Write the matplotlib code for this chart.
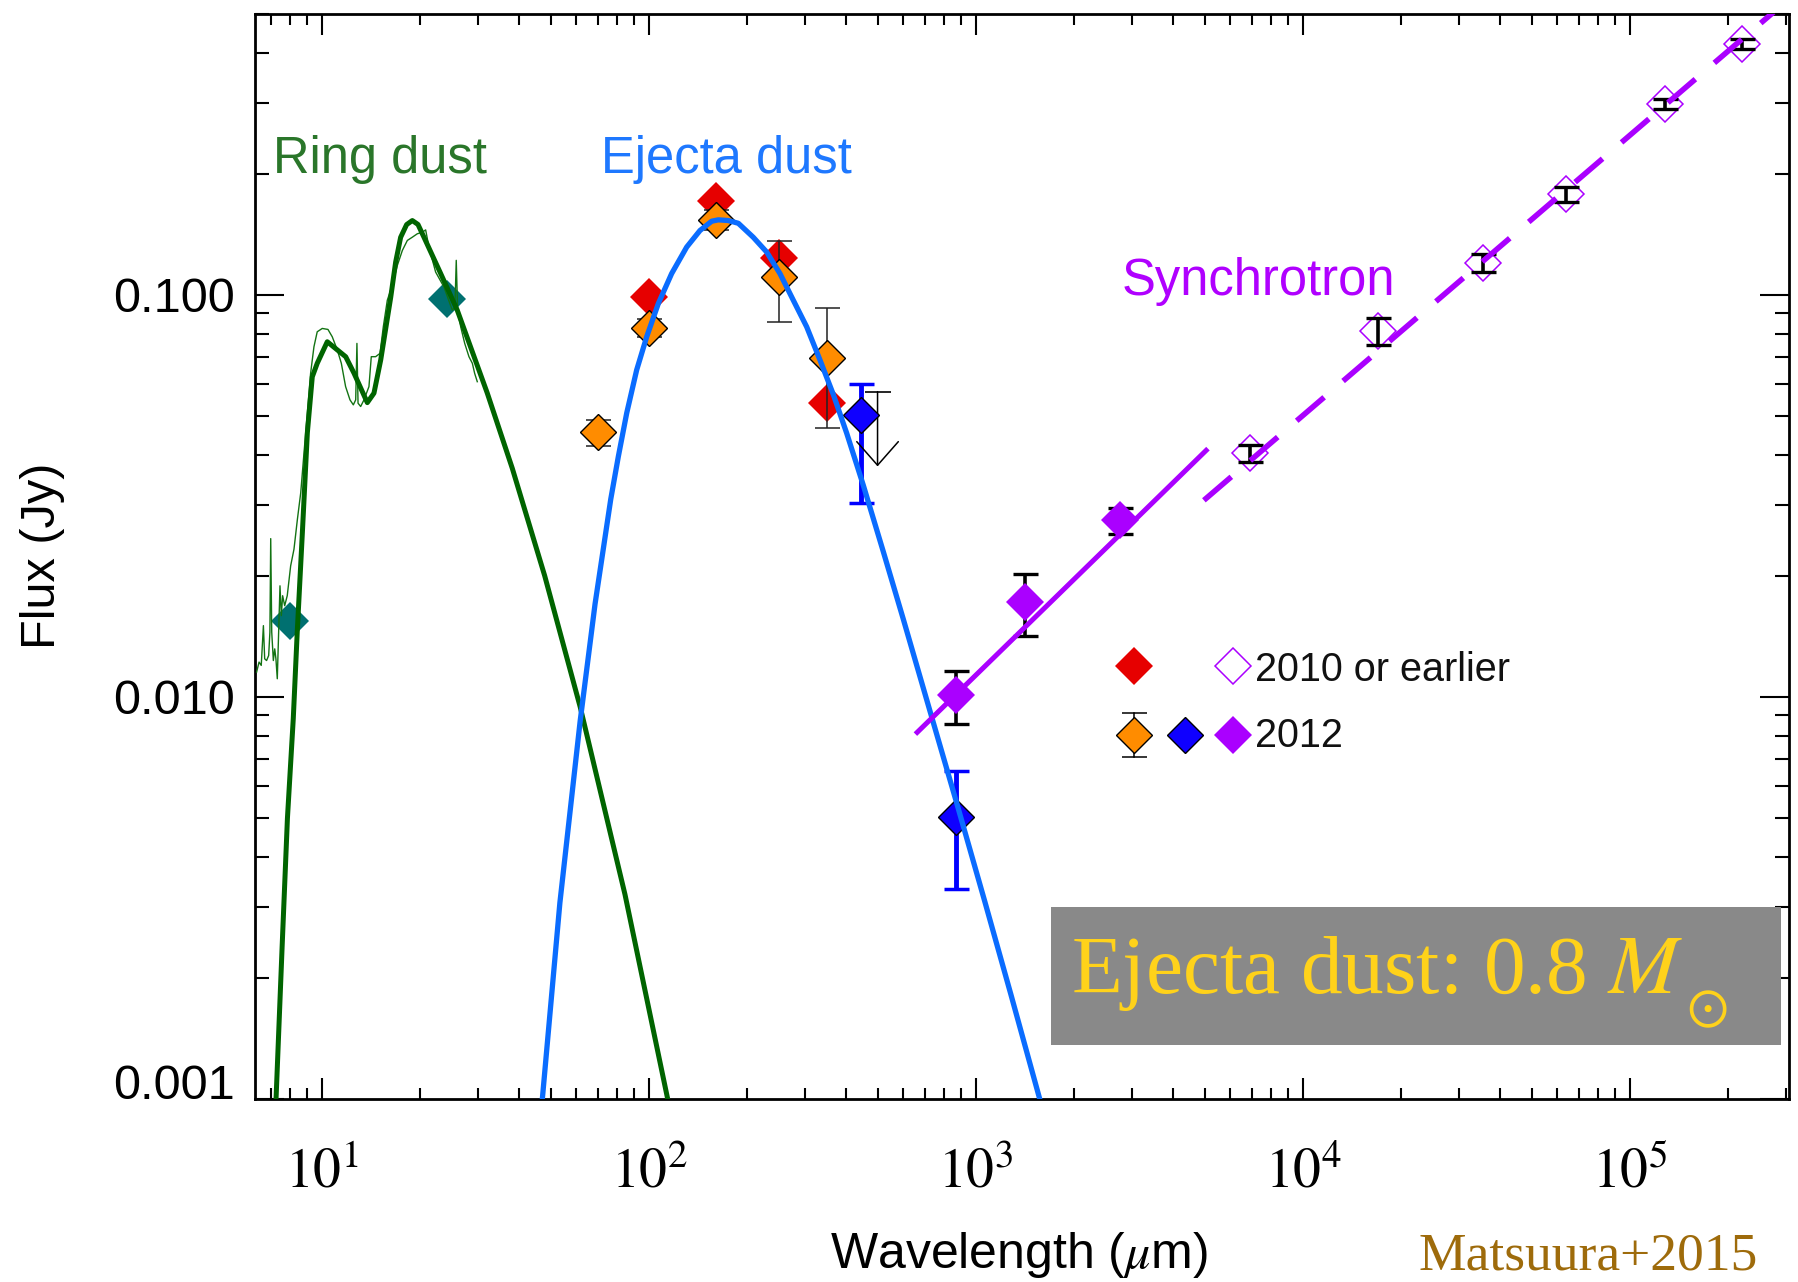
import math
import matplotlib
matplotlib.use('Agg')
import matplotlib.pyplot as plt
from matplotlib.ticker import FixedLocator, LogLocator, NullFormatter, FuncFormatter
from matplotlib.patches import Rectangle

plt.rcParams['font.family'] = ['Liberation Sans', 'DejaVu Sans']
plt.rcParams['mathtext.fontset'] = 'stix'

# ---------------- data ----------------
# Ring dust model (thick dark green)
ring_model_wl = [7.23, 7.55, 7.84, 8.17, 8.40, 8.71, 9.02, 9.34, 9.67, 10.38, 11.82, 12.53,
                 13.76, 14.42, 15.12, 16.23, 16.80, 17.40, 18.15, 18.89, 19.66, 20.51, 23.07,
                 25.93, 32.03, 38.19, 47.97, 61.62, 84.45, 114.3]
ring_model_flux = [0.00098, 0.00237, 0.00498, 0.00882, 0.01446, 0.0256, 0.0453, 0.0625, 0.0675,
                   0.0764, 0.0701, 0.0638, 0.0539, 0.0569, 0.0688, 0.0987, 0.1206, 0.139, 0.1495,
                   0.153, 0.1496, 0.139, 0.1129, 0.0915, 0.0569, 0.0370, 0.0200, 0.00942,
                   0.00322, 0.00099]

# Observed mid-IR spectrum (thin green)
spec_wl = [6.31, 6.42, 6.52, 6.62, 6.68, 6.77, 6.87, 6.93, 6.97, 7.02, 7.10, 7.17, 7.23, 7.30,
           7.37, 7.44, 7.51, 7.58, 7.69, 7.83, 8.02, 8.21, 8.41, 8.61, 8.81, 9.02, 9.23, 9.45,
           9.67, 10.02, 10.43, 10.75, 11.14, 11.46, 11.81, 12.18, 12.47, 12.68, 12.79, 12.89,
           13.13, 13.44, 13.92, 14.15, 14.59, 15.05, 15.40, 15.84, 16.41, 17.00, 17.61, 18.24,
           18.90, 19.56, 20.27, 20.75, 21.24, 22.26, 23.61, 25.03, 25.50, 25.74, 25.99, 26.56,
           27.32, 28.15, 28.83, 29.30, 29.85]
spec_flux = [0.01151, 0.01219, 0.01196, 0.01502, 0.01242, 0.01230, 0.01266, 0.01447, 0.02473,
             0.01447, 0.01230, 0.01315, 0.01242, 0.01108, 0.01447, 0.01887, 0.01591, 0.01783,
             0.01684, 0.01783, 0.02115, 0.02327, 0.02761, 0.03216, 0.04040, 0.05076, 0.06375,
             0.07423, 0.08089, 0.08245, 0.08198, 0.07860, 0.07284, 0.06752, 0.05908, 0.05476,
             0.05322, 0.05476, 0.07568, 0.05373, 0.05272, 0.05476, 0.05908, 0.07013, 0.07013,
             0.07148, 0.08322, 0.09691, 0.1056, 0.1183, 0.1289, 0.1365, 0.1391, 0.1418, 0.1431,
             0.1450, 0.1314, 0.1139, 0.1045, 0.09154, 0.09328, 0.1218, 0.09154, 0.08322,
             0.07568, 0.07013, 0.06752, 0.06375, 0.06077]

# Ejecta dust model (thick blue)
ejecta_model_wl = [47.1, 53.4, 61.6, 68.4, 76.4, 80.6, 85.5, 91.7, 98.4, 106.8, 117.3, 130.4,
                   143.2, 155.5, 162.9, 174.8, 187.6, 208.4, 229.1, 251.5, 276.3, 303.6, 333.4,
                   366.1, 402.3, 452.2, 520.6, 599.4, 723.4, 873.0, 1065.0, 1279.0, 1600.0]
ejecta_model_flux = [0.00098, 0.00307, 0.0087, 0.0170, 0.0310, 0.0396, 0.0508, 0.0650, 0.0786,
                     0.0951, 0.1129, 0.1314, 0.1445, 0.1524, 0.1536, 0.1530, 0.1506, 0.1390,
                     0.1277, 0.1129, 0.0969, 0.0832, 0.0688, 0.0565, 0.04526, 0.03359, 0.02296,
                     0.01559, 0.009203, 0.005436, 0.003084, 0.001814, 0.000937]

# Mid-IR photometry (teal)
teal_wl = [7.98, 24.06]
teal_flux = [0.01546, 0.0975]

# 2010 or earlier far-IR (red)
red_wl = [100, 160, 250, 350]
red_flux = [0.0988, 0.1708, 0.1237, 0.0539]

# 2012 far-IR (orange)
orange_wl = [70, 100, 160, 250, 350]
orange_flux = [0.0455, 0.0828, 0.1536, 0.1107, 0.0697]
orange_err = [0.0034, 0.0043, 0.009, 0.025, 0.023]

# 2012 ALMA dust (blue)
blue_wl = [445, 870]
blue_flux = [0.0503, 0.00503]
blue_err_lo = [0.0199, 0.0017]
blue_err_hi = [0.0096, 0.0015]

# 500 um upper limit
ulim_wl = [500]
ulim_top = [0.0574]
ulim_tip = [0.0374]

# 2012 synchrotron (purple filled)
sync12_wl = [870, 1410, 2750]
sync12_flux = [0.01007, 0.01717, 0.02746]
sync12_err = [0.0015, 0.003, 0.002]

# 2010 or earlier radio (purple open)
atca_wl = [6900, 16900, 35500, 63900, 128000, 220000]
atca_flux = [0.0403, 0.0813, 0.120, 0.178, 0.2985, 0.421]
atca_err = [0.002, 0.0064, 0.006, 0.0074, 0.008, 0.0125]

# Synchrotron power-law fits
sync_fit12_wl = [661, 5057]
sync_fit12_flux = [0.00815, 0.0410]
sync_fit_old_wl = [4977, 3.05e5]
sync_fit_old_flux = [0.0308, 0.543]

ytick_vals = [0.001, 0.01, 0.1]
ytick_labels = ['0.001', '0.010', '0.100']
xtick_vals = [1e1, 1e2, 1e3, 1e4, 1e5]

# ---------------- colors ----------------
c_red = '#e60000'
c_orange = '#ff8c00'
c_blue = '#0f00ff'
c_purple = '#aa00ff'
c_teal = '#007070'
c_green = '#006400'
c_ejecta = '#0a6cff'

fig = plt.figure(figsize=(17.98, 12.82), dpi=100)
ax = fig.add_axes([0.1416, 0.1431, 0.8534, 0.8461])
ax.set_xscale('log')
ax.set_yscale('log')

ms = 19
# markers / error bars
ax.plot(red_wl, red_flux, 'D', ms=ms, mfc=c_red, mec=c_red, mew=0, zorder=3)
ax.errorbar(orange_wl, orange_flux, yerr=orange_err, fmt='none', ecolor='#222222',
            elinewidth=1.1, capsize=9, capthick=1.1, zorder=3.4)
ax.plot(orange_wl, orange_flux, 'D', ms=18.3, mfc=c_orange, mec='black', mew=1.0, zorder=3.6)

ax.errorbar(blue_wl, blue_flux, yerr=[blue_err_lo, blue_err_hi], fmt='none', ecolor='#0000ff',
            elinewidth=3.5, capsize=9, capthick=2.5, zorder=3.4)
ax.plot(blue_wl, blue_flux, 'D', ms=18.3, mfc=c_blue, mec='black', mew=1.0, zorder=3.6)

# upper limit
ax.plot(ulim_wl, ulim_top, '_', ms=18.5, mew=1.2, color='black', zorder=3.4)
for w, t, b in zip(ulim_wl, ulim_top, ulim_tip):
    ax.annotate('', xy=(w, b), xytext=(w, t),
                arrowprops=dict(arrowstyle='->,head_length=1.0,head_width=0.88',
                                mutation_scale=17, lw=1.1, color='black',
                                shrinkA=0, shrinkB=0), zorder=3.4)

ax.errorbar(sync12_wl, sync12_flux, yerr=sync12_err, fmt='none', ecolor='black',
            elinewidth=2.6, capsize=9, capthick=2.4, zorder=3.4)
ax.plot(sync12_wl, sync12_flux, 'D', ms=ms, mfc=c_purple, mec=c_purple, mew=0, zorder=3.6)

ax.plot(atca_wl, atca_flux, 'D', ms=18.5, mfc='none', mec=c_purple, mew=1.1, zorder=3.6)
ax.errorbar(atca_wl, atca_flux, yerr=atca_err, fmt='none', ecolor='black',
            elinewidth=2.6, capsize=9, capthick=2.4, zorder=3.8)

ax.plot(teal_wl, teal_flux, 'D', ms=ms, mfc=c_teal, mec=c_teal, mew=0, zorder=3.6)

# curves
ax.plot(spec_wl, spec_flux, '-', color='#137313', lw=1.0, zorder=5)
ax.plot(ring_model_wl, ring_model_flux, '-', color=c_green, lw=3.6, zorder=5.2,
        solid_joinstyle='round')
ax.plot(ejecta_model_wl, ejecta_model_flux, '-', color=c_ejecta, lw=3.8, zorder=5.2,
        solid_joinstyle='round')
ax.plot(sync_fit12_wl, sync_fit12_flux, '-', color=c_purple, lw=3.6, zorder=5.2)
ax.plot(sync_fit_old_wl, sync_fit_old_flux, '-', color=c_purple, lw=4.0, zorder=5.2,
        dashes=(6.5, 4.5), dash_capstyle='butt')

# axes
ax.set_xlim(6.222, 3.064e5)
ax.set_ylim(0.001, 0.5)
label_map = dict(zip(ytick_vals, ytick_labels))
ax.yaxis.set_major_locator(FixedLocator(ytick_vals))
ax.yaxis.set_major_formatter(FuncFormatter(
    lambda v, p: label_map.get(min(ytick_vals, key=lambda t: abs(t - v)), '')))
ax.yaxis.set_minor_locator(LogLocator(base=10, subs=[2, 3, 4, 5, 6, 7, 8, 9], numticks=20))
ax.yaxis.set_minor_formatter(NullFormatter())
ax.xaxis.set_major_locator(FixedLocator(xtick_vals))
ax.xaxis.set_major_formatter(FuncFormatter(lambda v, p: r'$10^{%d}$' % round(math.log10(v))))
ax.xaxis.set_minor_locator(LogLocator(base=10, subs=[2, 3, 4, 5, 6, 7, 8, 9], numticks=20))
ax.xaxis.set_minor_formatter(NullFormatter())

for s in ax.spines.values():
    s.set_linewidth(2.0)
ax.tick_params(which='both', direction='in', top=True, right=True, width=1.5, colors='black')
ax.tick_params(axis='x', which='major', length=15, pad=35, labelsize=40)
ax.tick_params(axis='x', which='minor', length=8)
ax.tick_params(axis='y', which='major', length=21, pad=14, labelsize=35)
ax.tick_params(axis='y', which='minor', length=10)
ax.yaxis.get_major_ticks()[0].label1.set_verticalalignment('baseline')

ax.set_ylabel('Flux (Jy)', fontsize=35)
ax.yaxis.set_label_coords(-0.1236, 0.5)
ax.set_xlabel(r'Wavelength ($\mu$m)', fontsize=36)
ax.xaxis.set_label_coords(0.498, -0.121)

# labels
ax.text(0.012, 0.853, 'Ring dust', transform=ax.transAxes, fontsize=36.5, color='#2a762a',
        ha='left', va='baseline')
ax.text(0.2258, 0.853, 'Ejecta dust', transform=ax.transAxes, fontsize=36.5, color='#1e78ff',
        ha='left', va='baseline')
ax.text(0.565, 0.7407, 'Synchrotron', transform=ax.transAxes, fontsize=36.5, color='#b000ff',
        ha='left', va='baseline')

# manual legend
lx = [0.5731, 0.6062, 0.6374]
ly1, ly2 = 0.3992, 0.3351
ax.plot([lx[0]], [ly1], 'D', ms=ms, mfc=c_red, mew=0, transform=ax.transAxes, clip_on=False)
ax.plot([lx[2]], [ly1], 'D', ms=18.5, mfc='none', mec=c_purple, mew=1.1, transform=ax.transAxes, clip_on=False)
ax.plot([lx[0], lx[0]], [ly2 - 0.02, ly2 + 0.02], '-', color='black', lw=1.1, transform=ax.transAxes)
ax.plot([lx[0], lx[0]], [ly2 - 0.02, ly2 + 0.02], '_', color='black', ms=18, mew=1.1, transform=ax.transAxes)
ax.plot([lx[0]], [ly2], 'D', ms=18.3, mfc=c_orange, mec='black', mew=1.0, transform=ax.transAxes)
ax.plot([lx[1]], [ly2], 'D', ms=18.3, mfc=c_blue, mec='black', mew=1.0, transform=ax.transAxes)
ax.plot([lx[2]], [ly2], 'D', ms=ms, mfc=c_purple, mew=0, transform=ax.transAxes)
ax.text(0.652, 0.3849, '2010 or earlier', transform=ax.transAxes, fontsize=28.5, color='#111111',
        ha='left', va='baseline')
ax.text(0.652, 0.3243, '2012', transform=ax.transAxes, fontsize=28.5, color='#111111',
        ha='left', va='baseline')

# mass box
ax.add_patch(Rectangle((0.519, 0.0498), 0.4758, 0.1267, transform=ax.transAxes,
                       facecolor='#898989', edgecolor='none', zorder=6))
ax.text(0.532, 0.097, r'Ejecta dust: 0.8 $M$', transform=ax.transAxes, fontsize=60,
        family='Liberation Serif', color='#ffd21a', ha='left', va='baseline', zorder=7)
ax.text(0.9466, 0.0825, r'$\odot$', transform=ax.transAxes, fontsize=40,
        color='#ffd21a', ha='center', va='center', zorder=7)

fig.text(0.7887, 0.0015, 'Matsuura+2015', fontsize=38.5, family='Liberation Serif',
         color='#9e6b0b', ha='left', va='bottom')

fig.savefig('out.png', dpi=100)
